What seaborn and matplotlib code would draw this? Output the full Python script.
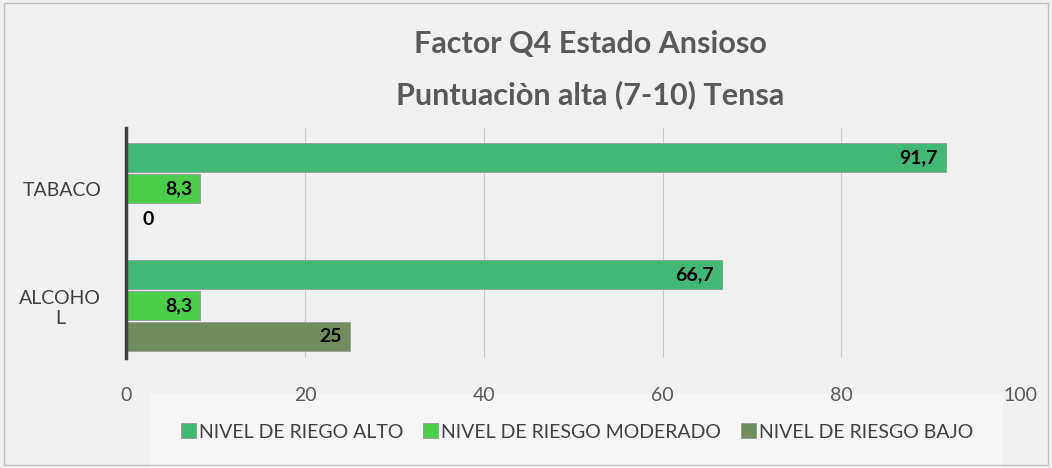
import pandas as pd
import matplotlib.pyplot as plt
import seaborn as sns
from matplotlib.patches import Rectangle

# data
categories = ['TABACO', 'ALCOHO\nL']
nivel_alto = [91.7, 66.7]
nivel_moderado = [8.3, 8.3]
nivel_bajo = [0, 25]
series_names = ['NIVEL DE RIEGO ALTO', 'NIVEL DE RIESGO MODERADO', 'NIVEL DE RIESGO BAJO']
x_ticks = [0, 20, 40, 60, 80, 100]

colors = ['#2fcb73', '#36e436', '#6f9555']
text_gray = '#595959'

rows = []
for name, vals in zip(series_names, [nivel_alto, nivel_moderado, nivel_bajo]):
    for cat, v in zip(categories, vals):
        rows.append({'categoria': cat, 'serie': name, 'valor': v})
df = pd.DataFrame(rows)

sns.set_theme(style='white')
plt.rcParams['font.family'] = ['Lato', 'DejaVu Sans']

fig = plt.figure(figsize=(10.52, 4.68), dpi=100, facecolor='#f1f1f1')
ax = fig.add_axes([0.12, 0.235, 0.8496, 0.4915])
ax.set_facecolor('#f1f1f1')

sns.barplot(data=df, y='categoria', x='valor', hue='serie', orient='h',
            palette=colors, hue_order=series_names, order=categories,
            width=0.8, gap=0.06, edgecolor='#9a9a9a', linewidth=0.6,
            ax=ax, legend=True)

# value labels at the inside end of each bar
for cont in ax.containers:
    for patch in cont.patches:
        w = patch.get_width()
        yc = patch.get_y() + patch.get_height() / 2
        if w > 0:
            ax.annotate(f'{w:g}'.replace('.', ','), (w, yc), xytext=(-6, 0),
                        textcoords='offset points', ha='right', va='center',
                        fontsize=14, fontweight='bold', color='black')
        else:
            ax.annotate('0', (w, yc), xytext=(12, 0),
                        textcoords='offset points', ha='left', va='center',
                        fontsize=14, fontweight='bold', color='black')

ax.set_xlim(0, 100)
ax.set_ylim(1.45, -0.52)
ax.set_xticks(x_ticks)
ax.set_xticklabels([str(t) for t in x_ticks], fontsize=14, color=text_gray)
ax.tick_params(axis='y', labelsize=14, labelcolor='#404040', length=0, pad=18)
for lbl in ax.get_yticklabels():
    lbl.set_multialignment('center')
ax.tick_params(axis='x', length=0, pad=21)
ax.set_xlabel('')
ax.set_ylabel('')
ax.xaxis.grid(True, color='#c8c8c8', linewidth=0.8)
ax.set_axisbelow(True)
for s in ['top', 'right', 'bottom']:
    ax.spines[s].set_visible(False)
ax.spines['left'].set_color('#404040')
ax.spines['left'].set_linewidth(2.5)

leg = ax.legend(loc='center', bbox_to_anchor=(0.5485, 0.0769), bbox_transform=fig.transFigure,
                ncol=3, frameon=True, fontsize=14, handlelength=0.8, handleheight=0.8,
                handletextpad=0.15, columnspacing=1.0, borderpad=1.2, borderaxespad=0)
leg.get_frame().set_facecolor('#f8f8f8')
leg.get_frame().set_edgecolor('none')
leg.get_frame().set_boxstyle('square')
leg.set_zorder(0.1)  # keep the x tick labels drawn over the legend box
for t in leg.get_texts():
    t.set_color('#404040')

fig.text(0.561, 0.905, 'Factor Q4 Estado Ansioso', ha='center', va='center',
         fontsize=22, fontweight='bold', color=text_gray)
fig.text(0.561, 0.797, 'Puntuaciòn alta (7-10) Tensa', ha='center', va='center',
         fontsize=22, fontweight='bold', color=text_gray)

fig.patches.append(Rectangle((0.004, 0.006), 0.992, 0.988, transform=fig.transFigure,
                             fill=False, edgecolor='#bfbfbf', linewidth=1))

fig.savefig('out.png', dpi=100, facecolor=fig.get_facecolor())
